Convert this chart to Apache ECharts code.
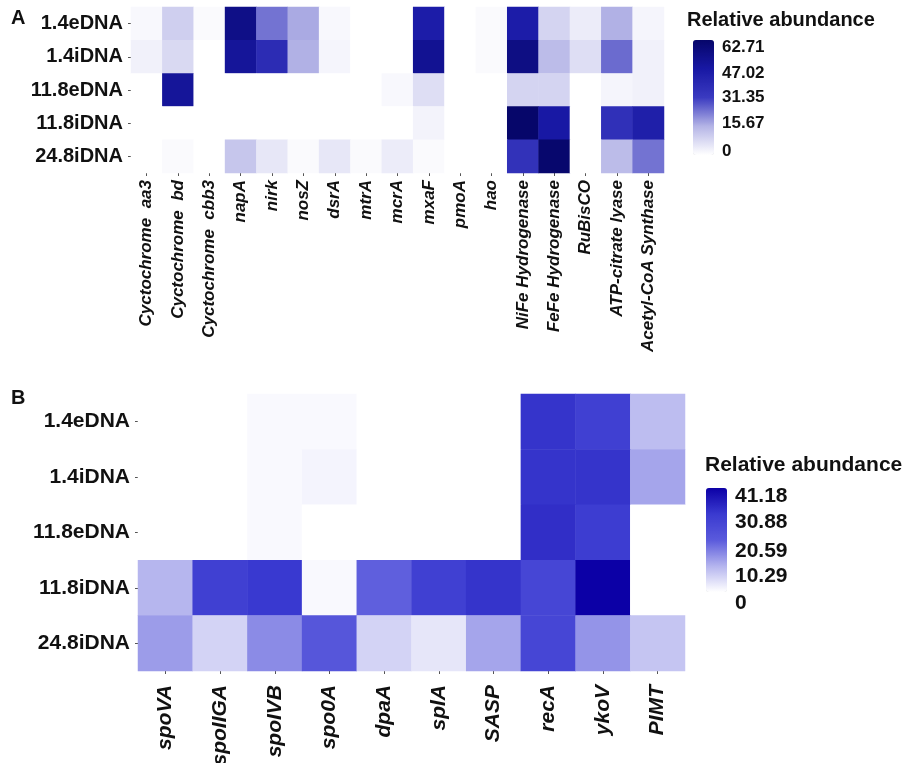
<!DOCTYPE html>
<html><head><meta charset="utf-8">
<script src="https://cdn.jsdelivr.net/npm/echarts@6/dist/echarts.min.js"></script>
<style>html,body{margin:0;padding:0;background:#fff}#c{width:910px;height:763px}</style>
</head><body><div id="c"></div>
<script>
// ---------- Panel A ----------
const rowsA = ['1.4eDNA', '1.4iDNA', '11.8eDNA', '11.8iDNA', '24.8iDNA'];
const genesA = ['Cyctochrome  aa3', 'Cyctochrome  bd', 'Cyctochrome  cbb3', 'napA', 'nirk', 'nosZ', 'dsrA', 'mtrA', 'mcrA', 'mxaF', 'pmoA', 'hao', 'NiFe Hydrogenase', 'FeFe Hydrogenase', 'RuBisCO', 'ATP-citrate lyase', 'Acetyl-CoA Synthase'];
const a_1_4eDNA  = [1.5, 10, 1, 55, 24, 17, 1.5, 0, 0, 45, 0, 1, 45, 9, 4, 16, 2];
const a_1_4iDNA  = [3, 8, 0, 50, 38, 16, 2, 0, 0, 52, 0, 1, 56, 14, 7, 25, 3];
const a_11_8eDNA = [0, 50, 0, 0, 0, 0, 0, 0, 1.5, 7, 0, 0, 9, 9, 0, 2, 3];
const a_11_8iDNA = [0, 0, 0, 0, 0, 0, 0, 0, 0, 2.5, 0, 0, 62.71, 47, 0, 36, 44];
const a_24_8iDNA = [0, 1, 0, 12, 5, 1, 5, 1, 4, 1, 0, 0, 35, 62, 0, 14, 24];
const valuesA = [a_1_4eDNA, a_1_4iDNA, a_11_8eDNA, a_11_8iDNA, a_24_8iDNA];
const legendTicksA = ['62.71', '47.02', '31.35', '15.67', '0'];
const maxA = 62.71;

// ---------- Panel B ----------
const rowsB = ['1.4eDNA', '1.4iDNA', '11.8eDNA', '11.8iDNA', '24.8iDNA'];
const genesB = ['spoVA', 'spoIIGA', 'spoIVB', 'spo0A', 'dpaA', 'splA', 'SASP', 'recA', 'ykoV', 'PIMT'];
const b_1_4eDNA  = [0, 0, 0.8, 0.8, 0, 0, 0, 32, 29, 9];
const b_1_4iDNA  = [0, 0, 0.8, 1.5, 0, 0, 0, 32, 32, 12];
const b_11_8eDNA = [0, 0, 0.8, 0, 0, 0, 0, 33, 30, 0];
const b_11_8iDNA = [10, 29, 31, 0.8, 20, 29, 32, 27, 41.18, 0];
const b_24_8iDNA = [13, 6, 15, 22, 6, 3.5, 12, 27, 14, 8];
const valuesB = [b_1_4eDNA, b_1_4iDNA, b_11_8eDNA, b_11_8iDNA, b_24_8iDNA];
const legendTicksB = ['41.18', '30.88', '20.59', '10.29', '0'];
const maxB = 41.18;

function toCells(vals) {
  const out = [];
  vals.forEach((row, r) => row.forEach((v, c) => out.push([c, r, v])));
  return out;
}

const FONT = '"Liberation Sans", Arial, sans-serif';
const chart = echarts.init(document.getElementById('c'), null, {renderer: 'canvas'});

const legendA = legendTicksA.map((t, i) => ({
  type: 'text', left: 722, top: [39, 65, 89, 115, 143][i],
  style: {text: t, font: 'bold 17px ' + FONT, fill: '#111'}
}));
const legendB = legendTicksB.map((t, i) => ({
  type: 'text', left: 735, top: [486, 512, 541, 566, 593][i],
  style: {text: t, font: 'bold 21px ' + FONT, fill: '#111'}
}));

chart.setOption({
  backgroundColor: '#fff',
  animation: false,
  grid: [
    {left: 131, top: 7, width: 533, height: 166, containLabel: false, outerBoundsMode: 'none'},
    {left: 138, top: 394, width: 547, height: 277, containLabel: false, outerBoundsMode: 'none'}
  ],
  xAxis: [
    {type: 'category', gridIndex: 0, data: genesA, position: 'bottom',
     axisLine: {show: false}, splitArea: {show: false},
     axisTick: {show: true, alignWithLabel: true, length: 3, lineStyle: {color: '#555'}},
     axisLabel: {rotate: 90, interval: 0, margin: 7, fontFamily: FONT, fontSize: 17,
                 fontWeight: 'bold', fontStyle: 'italic', color: '#111'}},
    {type: 'category', gridIndex: 1, data: genesB, position: 'bottom',
     axisLine: {show: false}, splitArea: {show: false},
     axisTick: {show: true, alignWithLabel: true, length: 3, lineStyle: {color: '#555'}},
     axisLabel: {rotate: 90, interval: 0, margin: 14, fontFamily: FONT, fontSize: 21,
                 fontWeight: 'bold', fontStyle: 'italic', color: '#111'}}
  ],
  yAxis: [
    {type: 'category', gridIndex: 0, data: rowsA, inverse: true,
     axisLine: {show: false}, splitArea: {show: false},
     axisTick: {show: true, alignWithLabel: true, length: 3, lineStyle: {color: '#555'}},
     axisLabel: {margin: 8, fontFamily: FONT, fontSize: 20, fontWeight: 'bold', color: '#111'}},
    {type: 'category', gridIndex: 1, data: rowsB, inverse: true,
     axisLine: {show: false}, splitArea: {show: false},
     axisTick: {show: true, alignWithLabel: true, length: 3, lineStyle: {color: '#555'}},
     axisLabel: {margin: 8, fontFamily: FONT, fontSize: 21, fontWeight: 'bold', color: '#111'}}
  ],
  visualMap: [
    {type: 'continuous', seriesIndex: 0, min: 0, max: maxA, calculable: false,
     orient: 'vertical', left: 693, top: 40, itemWidth: 21, itemHeight: 115,
     padding: 0, text: ['', ''], hoverLink: false,
     inRange: {color: ['#ffffff', '#b4b4e6', '#3a3ac0', '#1818a4', '#06066a']}},
    {type: 'continuous', seriesIndex: 1, min: 0, max: maxB, calculable: false,
     orient: 'vertical', left: 706, top: 488, itemWidth: 21, itemHeight: 104,
     padding: 0, text: ['', ''], hoverLink: false,
     inRange: {color: ['#ffffff', '#b4b4ee', '#5a5adc', '#3a3ad0', '#0c00a6']}}
  ],
  series: [
    {type: 'heatmap', xAxisIndex: 0, yAxisIndex: 0, data: toCells(valuesA),
     itemStyle: {borderWidth: 0}, emphasis: {disabled: true}},
    {type: 'heatmap', xAxisIndex: 1, yAxisIndex: 1, data: toCells(valuesB),
     itemStyle: {borderWidth: 0}, emphasis: {disabled: true}}
  ],
  graphic: [
    {type: 'text', left: 11, top: 8, style: {text: 'A', font: 'bold 20px ' + FONT, fill: '#111'}},
    {type: 'text', left: 11, top: 388, style: {text: 'B', font: 'bold 20px ' + FONT, fill: '#111'}},
    {type: 'text', left: 687, top: 10, style: {text: 'Relative abundance', font: 'bold 20px ' + FONT, fill: '#111'}},
    {type: 'text', left: 705, top: 455, style: {text: 'Relative abundance', font: 'bold 21px ' + FONT, fill: '#111'}}
  ].concat(legendA, legendB)
});
</script></body></html>
